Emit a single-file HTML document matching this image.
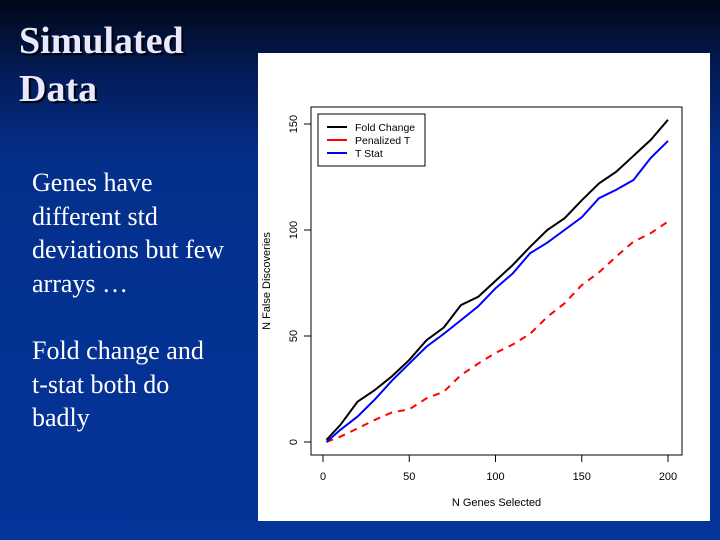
<!DOCTYPE html>
<html><head><meta charset="utf-8"><style>
html,body{margin:0;padding:0}
body{width:720px;height:540px;overflow:hidden;position:relative;background:linear-gradient(to bottom,#000818 0px,#041d5c 80px,#04308c 160px,#05349a 540px);font-family:"Liberation Serif",serif}
#title{position:absolute;left:19px;top:17px;color:#e8e8ff;font-weight:bold;font-size:38px;line-height:48px;text-shadow:2px 2px 1px #000}
#body{position:absolute;left:32px;top:166px;color:#fff;font-size:26px;line-height:33.6px}
#panel{position:absolute;left:258px;top:53px;width:452px;height:468px;background:#fff}
</style></head><body>
<div id="title">Simulated<br>Data</div>
<div id="body">Genes have<br>different std<br>deviations but few<br>arrays …<br><br>Fold change and<br>t-stat both do<br>badly</div>
<div id="panel">
<svg id="chart" width="452" height="468" font-family="Liberation Sans, sans-serif"></svg>
</div>
<script>
const genes=[2,10,20,30,40,50,60,70,80,90,100,110,120,130,140,150,160,170,180,190,200];
const foldChange=[1,8,19,24.5,31,38.7,48,54,64.6,68.5,76,83.5,92,100,105.5,114,122,127.5,135,142.5,152];
const tStat=[0,5.7,12,20,29,37,45,51,57.5,64,72.5,79.5,89,94,100,106,115,119,123.6,134,142];
const penalizedT=[0,2.5,6.4,10.4,14,15.4,20.6,23.7,31.6,37,42,46,51,59,65.4,74,80,87.5,94.5,98.5,104];
const xTicks=[0,50,100,150,200];
const yTicks=[0,50,100,150];
const ox=258, oy=53;
const sx=v=>323-ox+(v/200)*(668-323);
const sy=v=>442-oy-(v/150)*(442-124);
const svg=document.getElementById('chart');
const NS='http://www.w3.org/2000/svg';
function mk(t,a){const e=document.createElementNS(NS,t);for(const k in a)e.setAttribute(k,a[k]);svg.appendChild(e);return e;}
let box=mk('rect',{x:311-ox,y:107-oy,width:371,height:348,fill:'none',stroke:'#000','stroke-width':1});


xTicks.forEach(v=>{
 let l=mk('line',{x1:sx(v),x2:sx(v),y1:455-oy,y2:462-oy,stroke:'#000'});
 
 
 let t=mk('text',{x:sx(v),y:480-oy,'font-size':11,'text-anchor':'middle'});t.textContent=v;
 
 
});
yTicks.forEach(v=>{
 let l=mk('line',{x1:304-ox,x2:311-ox,y1:sy(v),y2:sy(v),stroke:'#000'});
 
 
 let t=mk('text',{x:297-ox,y:sy(v),'font-size':11,'text-anchor':'middle',transform:`rotate(-90 ${297-ox} ${sy(v)})`});t.textContent=v;
 
 
});
let xt=mk('text',{x:(311+682)/2-ox,y:506-oy,'font-size':11,'text-anchor':'middle'});xt.textContent='N Genes Selected';


let yt=mk('text',{x:270-ox,y:281-oy,'font-size':11,'text-anchor':'middle',transform:`rotate(-90 ${270-ox} ${281-oy})`});yt.textContent='N False Discoveries';


function series(vals,color,dash,name){
 const pts=genes.map((g,i)=>sx(g)+','+sy(vals[i])).join(' ');
 let p=mk('polyline',{points:pts,fill:'none',stroke:color,'stroke-width':2});
 if(dash)p.setAttribute('stroke-dasharray',dash);
 
 
}
series(penalizedT,'#f00','7 6','penalized-t-line');
series(tStat,'#00f',null,'t-stat-line');
series(foldChange,'#000',null,'fold-change-line');
let lg=mk('rect',{x:318-ox,y:114-oy,width:107,height:52,fill:'#fff',stroke:'#000'});


[['Fold Change','#000'],['Penalized T','#f00'],['T Stat','#00f']].forEach((d,i)=>{
 const y=127-oy+i*13;
 let l=mk('line',{x1:327-ox,x2:347-ox,y1:y,y2:y,stroke:d[1],'stroke-width':2});
 
 
 let t=mk('text',{x:355-ox,y:y+4,'font-size':10.5});t.textContent=d[0];
 
 
});
</script>
</body></html>
